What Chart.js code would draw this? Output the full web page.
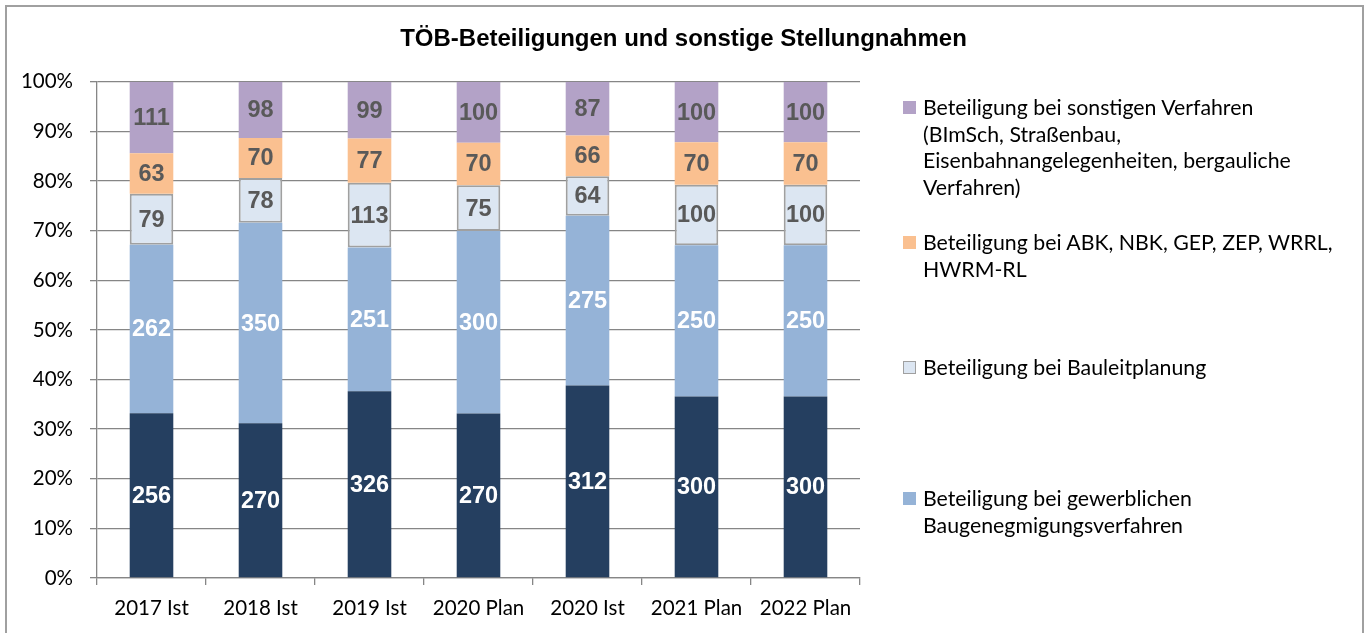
<!DOCTYPE html>
<html lang="de">
<head>
<meta charset="utf-8">
<script src="https://cdn.jsdelivr.net/npm/chart.js@4.4.1/dist/chart.umd.min.js"></script>
<style>
  html, body { margin: 0; padding: 0; background: #fff; }
  #wrap { position: relative; width: 1367px; height: 633px; overflow: hidden; }
  #frame { position: absolute; left: 5px; top: 5px; width: 1355px; height: 660px;
           border: 2px solid #a0a0a0; pointer-events: none; }
  .leg { position: absolute; left: 903px; font-family: Lato, sans-serif; font-size: 21.3px;
         line-height: 26.7px; color: #000; white-space: pre-line; }
  .leg i { position: absolute; left: 0; top: 7px; width: 13px; height: 13px; box-sizing: border-box; }
  .leg span { display: block; margin-left: 20px; }
</style>
</head>
<body>
<div id="wrap">
  <canvas id="chart"></canvas>
  <div id="legend"></div>
  <div id="frame"></div>
</div>
<script>
const categories = ['2017 Ist', '2018 Ist', '2019 Ist', '2020 Plan', '2020 Ist', '2021 Plan', '2022 Plan'];

// raw counts per series, bottom to top
const stellungnahmen = [256, 270, 326, 270, 312, 300, 300];
const gewerblich = [262, 350, 251, 300, 275, 250, 250];
const bauleitplanung = [79, 78, 113, 75, 64, 100, 100];
const abkNbk = [63, 70, 77, 70, 66, 70, 70];
const sonstige = [111, 98, 99, 100, 87, 100, 100];

const yTicks = [0, 10, 20, 30, 40, 50, 60, 70, 80, 90, 100];

const series = [
    { label: 'Stellungnahmen', values: stellungnahmen, color: '#253f60', text: '#ffffff', legend: false },
    { label: 'Beteiligung bei gewerblichen\nBaugenegmigungsverfahren', values: gewerblich, color: '#95b3d7', text: '#ffffff', legend: true, top: 485 },
    { label: 'Beteiligung bei Bauleitplanung', values: bauleitplanung, color: '#dce6f2', border: '#a0a0a0', text: '#595959', legend: true, top: 354 },
    { label: 'Beteiligung bei ABK, NBK, GEP, ZEP, WRRL,\nHWRM-RL', values: abkNbk, color: '#fac090', text: '#595959', legend: true, top: 229 },
    { label: 'Beteiligung bei sonstigen Verfahren\n(BImSch, Straßenbau,\nEisenbahnangelegenheiten, bergauliche\nVerfahren)', values: sonstige, color: '#b3a2c7', text: '#595959', legend: true, top: 94 },
];

const totals = categories.map((_, i) => series.reduce((s, ser) => s + ser.values[i], 0));

const datasets = series.map(ser => ({
    label: ser.label,
    data: ser.values.map((v, i) => v / totals[i] * 100),
    raw: ser.values,
    labelColor: ser.text,
    backgroundColor: ser.color,
    borderColor: ser.border || ser.color,
    borderWidth: ser.border ? 2 : 0,
    borderSkipped: false,
    barPercentage: 0.4,
    categoryPercentage: 1,
}));

const valueLabels = {
    id: 'valueLabels',
    afterDatasetsDraw(chart) {
        const ctx = chart.ctx;
        ctx.save();
        ctx.font = 'bold 23.5px "Liberation Sans", Arial, sans-serif';
        ctx.textAlign = 'center';
        ctx.textBaseline = 'middle';
        chart.data.datasets.forEach((ds, di) => {
            chart.getDatasetMeta(di).data.forEach((bar, i) => {
                ctx.fillStyle = ds.labelColor;
                ctx.fillText(String(ds.raw[i]), bar.x, (bar.y + bar.base) / 2 + 1);
            });
        });
        ctx.restore();
    }
};

const tickFont = { family: 'Lato', size: 20.5 };

new Chart(document.getElementById('chart'), {
    type: 'bar',
    data: { labels: categories, datasets },
    options: {
        responsive: true,
        maintainAspectRatio: false,
        animation: false,
        layout: { padding: { top: 8, left: 0, right: 0, bottom: 0 } },
        plugins: {
            legend: { display: false },
            tooltip: { enabled: false },
            title: {
                display: true,
                text: 'TÖB-Beteiligungen und sonstige Stellungnahmen',
                color: '#000',
                font: { family: 'Liberation Sans', size: 24, weight: 'bold' },
                padding: { top: 17, bottom: 28 },
            },
        },
        scales: {
            x: {
                stacked: true,
                grid: { display: true, drawOnChartArea: false, drawTicks: true, tickLength: 7, offset: true, color: '#868686', lineWidth: 1.3 },
                border: { color: '#868686', width: 1.3 },
                ticks: { color: '#000', font: tickFont, padding: 11, maxRotation: 0 },
                afterFit(scale) { scale.height = 55; },
            },
            y: {
                stacked: true,
                min: 0,
                max: 100,
                afterBuildTicks(scale) { scale.ticks = yTicks.map(v => ({ value: v })); },
                grid: { color: '#868686', lineWidth: 1.3, tickLength: 7 },
                border: { color: '#868686', width: 1.3 },
                ticks: { color: '#000', font: tickFont, padding: 17, callback: v => v + '%' },
                afterFit(scale) { scale.width = 97; },
            },
            pad: {
                position: 'right',
                display: true,
                grid: { display: false },
                border: { display: false },
                ticks: { display: false },
                afterFit(scale) { scale.width = 507; },
            },
        },
    },
    plugins: [valueLabels],
});

// legend on the right, navy series has no entry
const legendEl = document.getElementById('legend');
series.filter(s => s.legend).forEach(s => {
    const item = document.createElement('div');
    item.className = 'leg';
    item.style.top = s.top + 'px';
    const box = document.createElement('i');
    box.style.background = s.color;
    if (s.border) box.style.border = '1.5px solid ' + s.border;
    const txt = document.createElement('span');
    txt.textContent = s.label;
    item.appendChild(box);
    item.appendChild(txt);
    legendEl.appendChild(item);
});
</script>
</body>
</html>
